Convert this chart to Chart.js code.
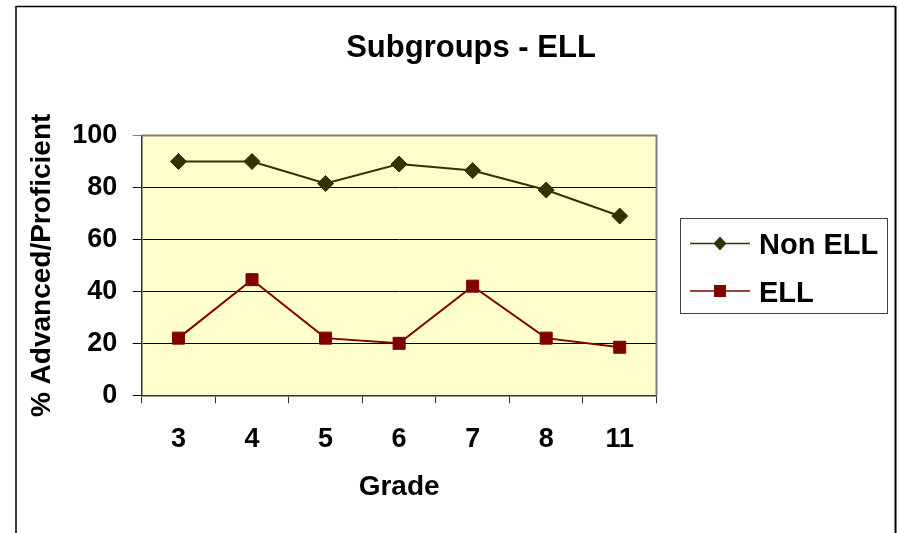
<!DOCTYPE html>
<html>
<head>
<meta charset="utf-8">
<title>Subgroups - ELL</title>
<script src="https://cdn.jsdelivr.net/npm/chart.js@4.4.1/dist/chart.umd.min.js"></script>
<style>
  html, body { margin: 0; padding: 0; background: #fff; }
  #wrap { position: absolute; left: 0; top: 0; width: 899px; height: 533px; }
</style>
</head>
<body>
<div id="wrap"><canvas id="chart" width="899" height="533"></canvas></div>
<script>
// grades on the x axis
const grades = ["3", "4", "5", "6", "7", "8", "11"];
// % advanced / proficient per grade
const nonEllValues = [90, 90, 81.5, 89, 86.5, 79, 69];
const ellValues = [22, 44.5, 22, 20, 42, 22, 18.5];
const yTicks = [0, 20, 40, 60, 80, 100];

const FONT = "'Liberation Sans', Arial, sans-serif";
const COLORS = { nonEll: "#333300", ell: "#800000", plot: "#FFFFCC", frame: "#808080" };

// frame, plot background, title and legend like the old spreadsheet chart
const sheetLook = {
  id: "sheetLook",
  beforeDraw(chart) {
    const { ctx, chartArea: a } = chart;
    ctx.save();
    ctx.fillStyle = COLORS.plot;
    ctx.fillRect(a.left, a.top, a.right - a.left, a.bottom - a.top);
    // outer frame (bottom edge is off the page)
    ctx.strokeStyle = "#000";
    ctx.lineWidth = 1.5;
    ctx.beginPath();
    ctx.moveTo(16, 540);
    ctx.lineTo(16, 6.5);
    ctx.lineTo(895, 6.5);
    ctx.stroke();
    ctx.lineWidth = 2;
    ctx.beginPath();
    ctx.moveTo(895.5, 6);
    ctx.lineTo(895.5, 540);
    ctx.stroke();
    ctx.restore();
  },
  beforeDatasetsDraw(chart) {
    const { ctx, chartArea: a } = chart;
    ctx.save();
    ctx.strokeStyle = COLORS.frame;
    ctx.lineWidth = 2;
    ctx.beginPath();
    ctx.moveTo(a.left, a.top);
    ctx.lineTo(a.right, a.top);
    ctx.lineTo(a.right, a.bottom);
    ctx.stroke();
    ctx.restore();
  },
  afterDraw(chart) {
    const ctx = chart.ctx;
    ctx.save();
    ctx.fillStyle = "#000";
    ctx.textAlign = "center";
    ctx.textBaseline = "alphabetic";
    ctx.font = "bold 31px " + FONT;
    ctx.fillText("Subgroups - ELL", 471, 57);

    // legend box
    ctx.strokeStyle = "#404040";
    ctx.lineWidth = 1;
    ctx.strokeRect(680.5, 218.5, 207, 95);
    const rows = [
      { label: "Non ELL", color: COLORS.nonEll, y: 243.5, shape: "diamond" },
      { label: "ELL", color: COLORS.ell, y: 291, shape: "square" }
    ];
    rows.forEach(r => {
      ctx.strokeStyle = r.color;
      ctx.lineWidth = 1.5;
      ctx.beginPath();
      ctx.moveTo(690, r.y);
      ctx.lineTo(750, r.y);
      ctx.stroke();
      ctx.fillStyle = r.color;
      ctx.beginPath();
      if (r.shape === "diamond") {
        ctx.moveTo(713.5, r.y);
        ctx.lineTo(720, r.y - 7);
        ctx.lineTo(726.5, r.y);
        ctx.lineTo(720, r.y + 7);
        ctx.closePath();
      } else {
        ctx.rect(714, r.y - 6, 12, 12);
      }
      ctx.fill();
      ctx.fillStyle = "#000";
      ctx.textAlign = "left";
      ctx.font = "bold 29px " + FONT;
      ctx.fillText(r.label, 759, r.y + 10.5);
    });
    ctx.restore();
  }
};

new Chart(document.getElementById("chart"), {
  type: "line",
  data: {
    labels: grades,
    datasets: [
      {
        label: "Non ELL",
        data: nonEllValues,
        borderColor: COLORS.nonEll,
        backgroundColor: COLORS.nonEll,
        borderWidth: 2,
        pointStyle: "rectRot",
        pointRadius: 8,
        pointBorderWidth: 1,
        tension: 0
      },
      {
        label: "ELL",
        data: ellValues,
        borderColor: COLORS.ell,
        backgroundColor: COLORS.ell,
        borderWidth: 2,
        pointStyle: "rect",
        pointRadius: 8.5,
        pointBorderWidth: 1,
        tension: 0
      }
    ]
  },
  options: {
    responsive: false,
    animation: false,
    devicePixelRatio: 1,
    layout: { padding: { left: 0, top: 135.5, right: 242.5, bottom: 0 } },
    plugins: {
      legend: { display: false },
      title: { display: false },
      tooltip: { enabled: false }
    },
    scales: {
      x: {
        offset: true,
        grid: {
          offset: true,
          drawOnChartArea: false,
          drawTicks: true,
          tickLength: 8,
          color: "#333"
        },
        border: { display: true, color: "#333", width: 1.5 },
        ticks: {
          color: "#000",
          padding: 20,
          font: { family: FONT, size: 27, weight: "bold" }
        },
        title: {
          display: true,
          text: "Grade",
          color: "#000",
          padding: { top: 0, bottom: 29 },
          font: { family: FONT, size: 28, weight: "bold" }
        },
        afterFit(scale) { scale.height = 137.7; }
      },
      y: {
        min: 0,
        max: 100,
        afterBuildTicks(scale) { scale.ticks = yTicks.map(v => ({ value: v })); },
        grid: {
          color: ctx => (ctx.tick && ctx.tick.value === 100 ? COLORS.frame : "#000"),
          lineWidth: 1,
          tickLength: 9
        },
        border: { display: true, color: "#333", width: 1.5 },
        ticks: {
          color: "#000",
          padding: 15.5,
          font: { family: FONT, size: 27, weight: "bold" }
        },
        title: {
          display: true,
          text: "% Advanced/Proficient",
          color: "#000",
          padding: { top: 25, bottom: 0 },
          font: { family: FONT, size: 28, weight: "bold" }
        },
        afterFit(scale) { scale.width = 141.7; }
      }
    }
  },
  plugins: [sheetLook]
});
</script>
</body>
</html>
